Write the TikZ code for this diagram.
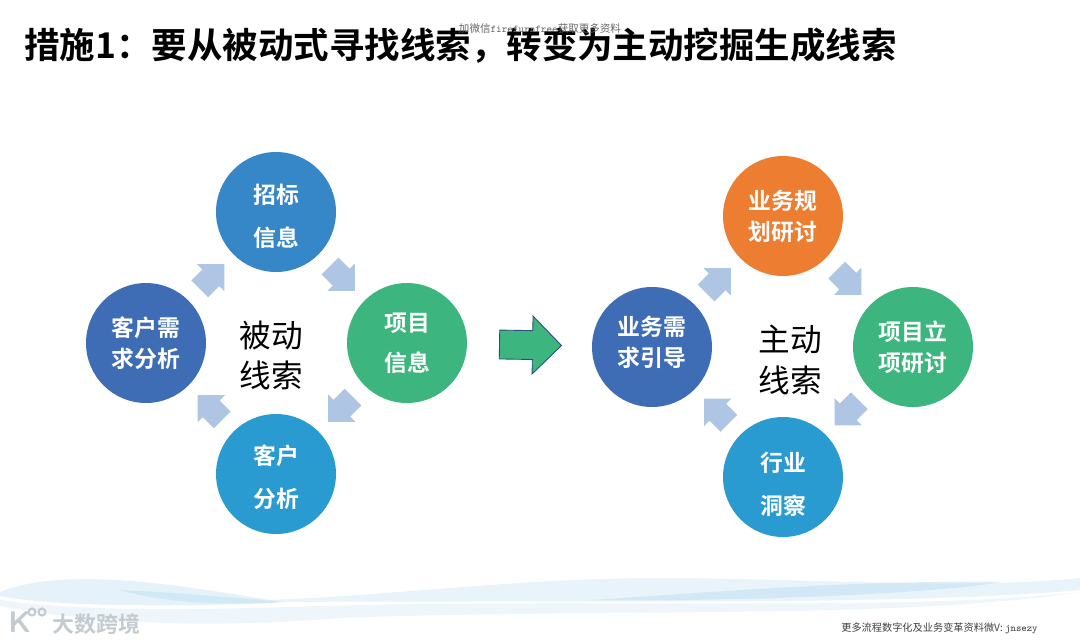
\documentclass[tikz,border=0pt]{standalone}
\usepackage{fontspec}
\usepackage{tikz}
\usetikzlibrary{shapes.arrows}
\newfontfamily\cjk{Noto Sans CJK SC}[BoldFont={Noto Sans CJK SC Bold}]
\definecolor{BallBlue}{HTML}{3587C8}
\definecolor{BallGreen}{HTML}{3CB67E}
\definecolor{BallSky}{HTML}{2A9BD0}
\definecolor{BallNavy}{HTML}{3F6DB5}
\definecolor{BallOrange}{HTML}{ED7D31}
\definecolor{FlowBlue}{HTML}{AFC5E4}
\definecolor{WaveBlue}{HTML}{BFDFF2}
\definecolor{BrandGrey}{HTML}{C4CBD0}
\tikzset{
ball/.style={circle, minimum size=2.4cm, inner sep=0pt, text=white, align=center, font=\cjk\bfseries\fontsize{13}{17.6}\selectfont},
flow/.style={single arrow, fill=FlowBlue, inner xsep=0pt, inner ysep=0.23cm, minimum height=0.7cm, single arrow head extend=0.15cm, single arrow tip angle=90, allow upside down, sloped, pos=0.43},
bigflow/.style={single arrow, fill=BallGreen, draw=BallNavy!70!black, line width=0.5pt, inner xsep=0pt, inner ysep=0.28cm, minimum height=1.24cm, single arrow head extend=0.29cm, single arrow tip angle=90, sloped, pos=0.45},
hub/.style={align=center, font=\cjk\fontsize{18}{22.8}\selectfont},
wave/.style={fill=WaveBlue, draw=none},
}
%% text sits off the centre of some balls: pad its top or its bottom
\newcommand\lift[1]{\rule{0pt}{\dimexpr 11pt+#1pt\relax}}
\newcommand\drop[1]{\rule[\dimexpr -1.5pt-#1pt\relax]{0pt}{1pt}}
\begin{document}
\begin{tikzpicture}[x=0.02cm, y=-0.02cm]
\useasboundingbox[fill=white] (0,0) rectangle (1080,643);

%% ---- wave along the bottom ----
\begin{scope}
  \fill[wave, opacity=0.4] (0,592) .. controls (50,572) and (130,578) .. (220,592) .. controls (260,598) and (290,603) .. (270,603) .. controls (200,606) and (60,608) .. (0,596) -- cycle;
  \fill[wave, opacity=0.5] (120,590) .. controls (170,592) and (240,598) .. (285,602) .. controls (220,606) and (160,602) .. (120,590) -- cycle;
  \fill[wave, opacity=0.35] (270,600) .. controls (400,595) and (520,578) .. (660,578) .. controls (800,578) and (960,590) .. (1080,578) -- (1080,590) .. controls (900,606) and (600,600) .. (270,602) -- cycle;
  \fill[wave, opacity=0.5] (590,600) .. controls (720,592) and (850,580) .. (1000,582) .. controls (950,592) and (760,602) .. (590,600) -- cycle;
  \fill[wave, opacity=0.25] (0,600) .. controls (80,612) and (200,610) .. (320,606) .. controls (600,598) and (900,612) .. (1080,592) .. controls (900,620) and (600,608) .. (340,618) .. controls (220,628) and (100,625) .. (0,606) -- cycle;
\end{scope}

%% ---- title and small print ----
\node[anchor=west, font=\cjk\bfseries\fontsize{20.2}{24}\selectfont] (title) at (18,46) {措施1：要从被动式寻找线索，转变为主动挖掘生成线索};
\node[text=black!60, font=\cjk\fontsize{6}{7}\selectfont] (wxtop) at (540,28) {加微信\texttt{firefurnfree}获取更多资料};
\node[anchor=east, inner sep=0pt, text=black!75, font=\cjk\fontsize{5.8}{7}\selectfont] (wxbot) at (1038,628) {更多流程数字化及业务变革资料微V: \texttt{jnsezy}};
\node[anchor=west, inner sep=0pt, text=BrandGrey, font=\cjk\bfseries\fontsize{12.5}{14}\selectfont] (brand) at (52,624) {大数跨境};
\node[anchor=west, inner sep=0pt, text=BrandGrey, font=\bfseries\sffamily\fontsize{17}{18}\selectfont] (logo) at (8,622) {K};
\node[circle, draw=BrandGrey, line width=1.2pt, minimum size=0.14cm, inner sep=0pt] (ringa) at (32,612) {};
\node[circle, draw=BrandGrey, line width=1.2pt, minimum size=0.14cm, inner sep=0pt] (ringb) at (42,612) {};

%% ---- passive side ----
\node[ball, fill=BallBlue] (zhaobiao) at (276,212) {\lift{4.6}招标\\[6.9pt]信息};
\node[ball, fill=BallGreen] (xiangmu) at (407,343) {项目\\[5pt]信息};
\node[ball, fill=BallSky] (kehu) at (276,474) {\lift{4}客户\\[6.9pt]分析};
\node[ball, fill=BallNavy] (xuqiu) at (146,343) {客户需\\求分析};
\node[hub] (beidong) at (271,355) {被动\\线索};
\path (zhaobiao) -- (xiangmu) node[flow] (f1) {};
\path (xiangmu) -- (kehu) node[flow] (f2) {};
\path (kehu) -- (xuqiu) node[flow] (f3) {};
\path (xuqiu) -- (zhaobiao) node[flow] (f4) {};

%% ---- active side ----
\node[ball, fill=BallOrange] (guihua) at (783,216) {业务规\\划研讨};
\node[ball, fill=BallGreen] (lixiang) at (913,347) {项目立\\项研讨};
\node[ball, fill=BallSky] (hangye) at (783,477) {\lift{8.6}行业\\[6.9pt]洞察};
\node[ball, fill=BallNavy] (yindao) at (652,347) {业务需\\求引导\drop{5.1}};
\node[hub] (zhudong) at (790,360) {主动\\线索};
\path (guihua) -- (lixiang) node[flow] (g1) {};
\path (lixiang) -- (hangye) node[flow] (g2) {};
\path (hangye) -- (yindao) node[flow] (g3) {};
\path (yindao) -- (guihua) node[flow] (g4) {};

%% ---- between the two ----
\path (xiangmu) -- (yindao) node[bigflow] (turn) {};
\end{tikzpicture}
\end{document}
